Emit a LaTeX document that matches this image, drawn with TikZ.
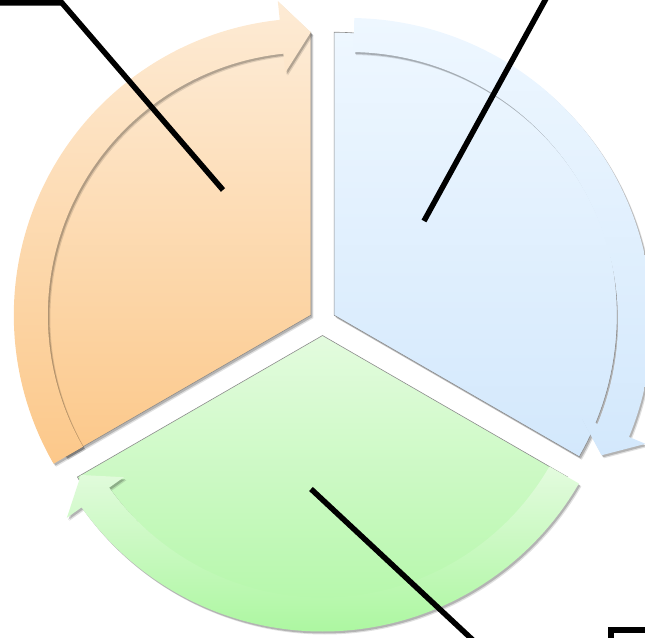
\documentclass[tikz,border=0pt]{standalone}
\usetikzlibrary{shadows,calc}
\definecolor{oTop}{HTML}{FDEBD5}
\definecolor{oBot}{HTML}{FCC88A}
\definecolor{bTop}{HTML}{EEF7FF}
\definecolor{bBot}{HTML}{D3E8FC}
\definecolor{gTop}{HTML}{E3FBDE}
\definecolor{gBot}{HTML}{ADF7A1}
\begin{document}
\begin{tikzpicture}[x=1pt,y=1pt,
  softshadow/.style={
    drop shadow={shadow xshift=2.5pt, shadow yshift=-3pt, opacity=0.12, fill=black},
    drop shadow={shadow xshift=1.5pt, shadow yshift=-2pt, opacity=0.2, fill=black}},
  sector/.style={draw=black!45, line width=0.6pt, softshadow},
  band/.style={draw=none, softshadow},
  callout/.style={line width=5.5pt, black, line join=miter}]
\useasboundingbox (0,0) rectangle (645,637);
\clip (0,0) rectangle (645,637);
\coordinate (C) at (322.5,315);
\coordinate (O) at ($(C)+(150:13.5)$);
\coordinate (B) at ($(C)+(30:13.5)$);
\coordinate (G) at ($(C)+(270:13.5)$);
\coordinate (BB) at (349,316);
% sectors
\path[sector, top color=oTop, bottom color=oBot]
  (O) -- ++(210:283) arc[start angle=210, end angle=90, radius=283] -- cycle;
\path[sector, top color=bTop, bottom color=bBot]
  (B) -- ++(90:283) arc[start angle=90, end angle=-30, radius=283] -- cycle;
\path[sector, top color=gTop, bottom color=gBot]
  (G) -- ++(330:283) arc[start angle=330, end angle=210, radius=283] -- cycle;
% circular arrow bands
\begin{scope}[shift={(O)}]
\path[band, top color=oTop, bottom color=oBot]
  (210:297) arc[start angle=210, end angle=96, radius=297] -- (96:316) -- (90:283)
  -- (96:244) -- (96:263) arc[start angle=96, end angle=210, radius=263] -- cycle;
\end{scope}
\begin{scope}[shift={(BB)}]
\path[band, top color=bTop, bottom color=bBot]
  (89:303) arc[start angle=89, end angle=-22.5, radius=303] -- (-22.5:321) -- (-28:286)
  -- (-22.5:251) -- (-22.5:269) arc[start angle=-22.5, end angle=89, radius=269] -- cycle;
\end{scope}
\begin{scope}[shift={(G)}]
\path[band, top color=gTop, bottom color=gBot]
  (330:296) arc[start angle=330, end angle=215.5, radius=296] -- (215.5:314) -- (210:279)
  -- (215.5:244) -- (215.5:262) arc[start angle=215.5, end angle=330, radius=262] -- cycle;
\end{scope}
% callout lines
\coordinate (l1a) at (-6,634);
\coordinate (l1b) at (62,634);
\coordinate (l1c) at (223,447);
\coordinate (l2a) at (424,416);
\coordinate (l2b) at (548,642);
\coordinate (l3a) at (311,148);
\coordinate (l3b) at (476,-6);
\coordinate (l4a) at (611,-6);
\coordinate (l4b) at (611,7);
\coordinate (l4c) at (652,7);
\draw[callout] (l1a) -- (l1b) -- (l1c);
\draw[callout] (l2a) -- (l2b);
\draw[callout] (l3a) -- (l3b);
\draw[callout] (l4a) -- (l4b) -- (l4c);
\end{tikzpicture}
\end{document}
